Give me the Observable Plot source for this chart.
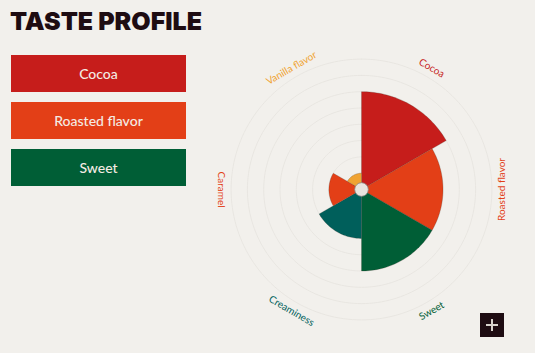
<!DOCTYPE html>
<html>
<head>
<meta charset="utf-8">
<script src="https://cdn.jsdelivr.net/npm/d3@7"></script>
<script src="https://cdn.jsdelivr.net/npm/@observablehq/plot@0.6"></script>
<style>
  html, body { margin: 0; padding: 0; }
  body { width: 535px; height: 353px; background: #f2f0ec; position: relative; overflow: hidden; font-family: Lato, "Noto Sans", sans-serif; }
  #title { position: absolute; left: 10px; top: 7px; font-family: Inter, Lato, sans-serif; font-size: 25px; font-weight: 900; color: #1e0c12; letter-spacing: 0px; line-height: 29px; }
  .btn { position: absolute; left: 11px; width: 175px; height: 37px; color: #f4ebe3; font-size: 14px; font-weight: 500; display: flex; align-items: center; justify-content: center; }
  #plus { position: absolute; left: 480px; top: 313px; width: 24px; height: 24px; background: #1e0c12; }
  #plus::before, #plus::after { content: ""; position: absolute; background: #d8d3cd; }
  #plus::before { left: 6px; top: 11px; width: 12px; height: 2px; }
  #plus::after { left: 11px; top: 6px; width: 2px; height: 12px; }
  #chart { position: absolute; left: 201px; top: 39px; }
</style>
</head>
<body>
<div id="title">TASTE PROFILE</div>
<div id="legend"></div>
<div id="plus"></div>
<div id="chart"></div>
<script>
const categories = ["Cocoa", "Roasted flavor", "Sweet", "Creaminess", "Caramel", "Vanilla flavor"];
const values = [6, 5, 5, 3, 2, 1];
const colors = ["#c61d1b", "#e33f17", "#005e36", "#005f5b", "#e33f17", "#f0a332"];
const legendItems = ["Cocoa", "Roasted flavor", "Sweet"];
const rings = [1, 2, 3, 4, 5, 6, 7, 8];
const labelRadius = 8.6;

// legend buttons
const legend = document.getElementById("legend");
legendItems.forEach((name, i) => {
  const d = document.createElement("div");
  d.className = "btn";
  d.style.top = (55 + i * 47) + "px";
  d.style.background = colors[categories.indexOf(name)];
  d.textContent = name;
  legend.appendChild(d);
});

const W = 320, H = 300, unit = 16.3;
const step = 360 / categories.length;
const rad = a => a * Math.PI / 180;

// sectors as polygons in data units
const sectors = [];
categories.forEach((c, i) => {
  const a0 = i * step, a1 = (i + 1) * step, r = values[i];
  sectors.push({category: c, x: 0, y: 0});
  for (let k = 0; k <= 40; k++) {
    const a = rad(a0 + (a1 - a0) * k / 40);
    sectors.push({category: c, x: r * Math.sin(a), y: r * Math.cos(a)});
  }
  sectors.push({category: c, x: 0, y: 0});
});

// grid rings
const ringPts = [];
rings.forEach(r => {
  for (let k = 0; k <= 180; k++) {
    const a = rad(k * 2);
    ringPts.push({ring: r, x: r * Math.sin(a), y: r * Math.cos(a)});
  }
});

// labels
const labels = categories.map((c, i) => {
  const a = (i + 0.5) * step;
  const rot = (a >= 90 && a <= 270) ? a - 180 : (a > 270 ? a - 360 : a);
  return {category: c, x: labelRadius * Math.sin(rad(a)), y: labelRadius * Math.cos(rad(a)), rotate: rot};
});

const chart = Plot.plot({
  width: W, height: H,
  margin: 0,
  x: {domain: [-W / 2 / unit, W / 2 / unit], axis: null},
  y: {domain: [-H / 2 / unit, H / 2 / unit], axis: null},
  color: {domain: categories, range: colors},
  style: {background: "transparent", overflow: "visible", fontFamily: "Lato, 'Noto Sans', sans-serif"},
  marks: [
    Plot.line(ringPts, {x: "x", y: "y", z: "ring", stroke: "#e6e3de", strokeWidth: 0.8}),
    Plot.line(sectors, {x: "x", y: "y", z: "category", fill: "category", stroke: "#3a2a22", strokeOpacity: 0.35, strokeWidth: 0.6}),
    Plot.dot([{x: 0, y: 0}], {x: "x", y: "y", r: 6.8, fill: "#e8e4de", stroke: "#8c8782", strokeWidth: 0.8}),
    Plot.text(labels, {x: "x", y: "y", text: "category", rotate: "rotate", fill: "category", fontSize: 10, textAnchor: "middle", lineAnchor: "middle"})
  ]
});
document.getElementById("chart").appendChild(chart);
</script>
</body>
</html>
